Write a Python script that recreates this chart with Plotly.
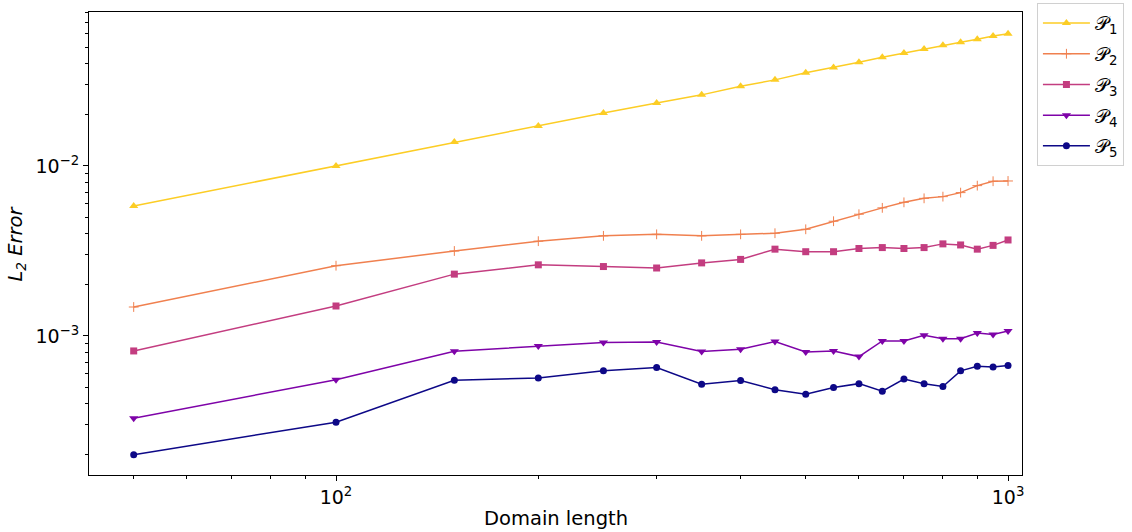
import plotly.graph_objects as go
import numpy as np

# Domain lengths (x) and L2 errors for each space P1..P5
domain_length = [50, 100, 150, 200, 250, 300, 350, 400, 450, 500,
                 550, 600, 650, 700, 750, 800, 850, 900, 950, 1000]

err_p1 = [0.00582, 0.0100, 0.01384, 0.0172, 0.0205, 0.0235, 0.0262, 0.0294, 0.0321, 0.0354,
          0.0379, 0.0407, 0.0436, 0.0462, 0.0488, 0.0513, 0.0534, 0.0556, 0.0582, 0.0600]
err_p2 = [0.00148, 0.00259, 0.00316, 0.00361, 0.00388, 0.00396, 0.00388, 0.00396, 0.00402, 0.00424,
          0.00473, 0.00520, 0.00567, 0.00611, 0.00645, 0.00660, 0.00697, 0.00766, 0.00813, 0.00816]
err_p3 = [0.000816, 0.00150, 0.00231, 0.00262, 0.00256, 0.00251, 0.00269, 0.00282, 0.00324, 0.00313,
          0.00313, 0.00327, 0.00331, 0.00327, 0.00331, 0.00348, 0.00343, 0.00324, 0.00341, 0.00367]
err_p4 = [0.000328, 0.000553, 0.000813, 0.000873, 0.000914, 0.000922, 0.000809, 0.000835, 0.000927, 0.000805,
          0.000816, 0.000756, 0.000935, 0.000933, 0.00101, 0.000964, 0.000964, 0.00104, 0.00102, 0.00107]
err_p5 = [0.000200, 0.000311, 0.000548, 0.000566, 0.000623, 0.000651, 0.000520, 0.000546, 0.000483, 0.000454,
          0.000497, 0.000524, 0.000473, 0.000558, 0.000524, 0.000504, 0.000623, 0.000664, 0.000657, 0.000669]

series_names = ["𝒫<sub>1</sub>", "𝒫<sub>2</sub>", "𝒫<sub>3</sub>", "𝒫<sub>4</sub>", "𝒫<sub>5</sub>"]
series_values = [err_p1, err_p2, err_p3, err_p4, err_p5]

x_major = [100, 1000]
x_major_text = ["10<sup>2</sup>", "10<sup>3</sup>"]
y_major = [1e-3, 1e-2]
y_major_text = ["10<sup>−3</sup>", "10<sup>−2</sup>"]

colors = ["#fccd25", "#f0804f", "#c33d80", "#7e03a8", "#0d0887"]
symbols = ["triangle-up", "cross-thin", "square", "triangle-down", "circle"]
sizes = [8, 7, 7, 8, 7]

fig = go.Figure()
for i, (name, vals, c, s, sz) in enumerate(zip(series_names, series_values, colors, symbols, sizes)):
    marker = dict(symbol=s, size=sz, color=c)
    if s == "cross-thin":
        marker["line"] = dict(color=c, width=1)
    else:
        marker["line"] = dict(width=0)
    fig.add_trace(go.Scatter(
        x=domain_length, y=vals, name=name, mode="lines+markers",
        legendgroup=f"g{i}",
        line=dict(color=c, width=1.5), marker=marker,
    ))

x_minor = list(range(50, 100, 10)) + list(range(200, 1000, 100))
y_minor = [m * 10.0 ** e for e in (-4, -3, -2) for m in range(2, 10) if 1.5e-4 < m * 10.0 ** e < 0.0806]

font = "DejaVu Sans"
fig.update_layout(
    width=1132, height=532,
    margin=dict(l=89, r=110, t=12, b=57, autoexpand=False),
    paper_bgcolor="white", plot_bgcolor="white",
    font=dict(family=font, size=19, color="black"),
    showlegend=True,
    legend=dict(
        x=1.016, y=1.019, xanchor="left", yanchor="top",
        bordercolor="#d0d0d0", borderwidth=1, bgcolor="white",
        font=dict(size=19), tracegroupgap=3, itemwidth=47,
    ),
    xaxis=dict(
        type="log", range=[np.log10(42.9), np.log10(1049)],
        tickmode="array", tickvals=x_major, ticktext=x_major_text,
        ticks="outside", ticklen=5, tickwidth=1, tickcolor="black",
        minor=dict(tickmode="array", tickvals=x_minor, ticks="outside", ticklen=3, tickwidth=1, tickcolor="black"),
        showgrid=False, zeroline=False, automargin=False,
        showline=True, linecolor="black", linewidth=1, mirror=True,
    ),
    yaxis=dict(
        type="log", range=[np.log10(1.52e-4), np.log10(0.0805)],
        tickmode="array", tickvals=y_major, ticktext=y_major_text,
        ticks="outside", ticklen=5, tickwidth=1, tickcolor="black",
        minor=dict(tickmode="array", tickvals=y_minor, ticks="outside", ticklen=3, tickwidth=1, tickcolor="black"),
        showgrid=False, zeroline=False, automargin=False,
        showline=True, linecolor="black", linewidth=1, mirror=True,
    ),
    annotations=[
        dict(text="Domain length", xref="paper", yref="paper", x=0.5, y=0,
             xanchor="center", yanchor="middle", yshift=-43, showarrow=False,
             font=dict(size=19.5)),
        dict(text="<i>L<sub>2</sub> Error</i>", xref="paper", yref="paper", x=0, y=0.5,
             xanchor="center", yanchor="middle", xshift=-73, textangle=-90, showarrow=False,
             font=dict(size=19.5)),
    ],
)

fig.write_html("out.html")
